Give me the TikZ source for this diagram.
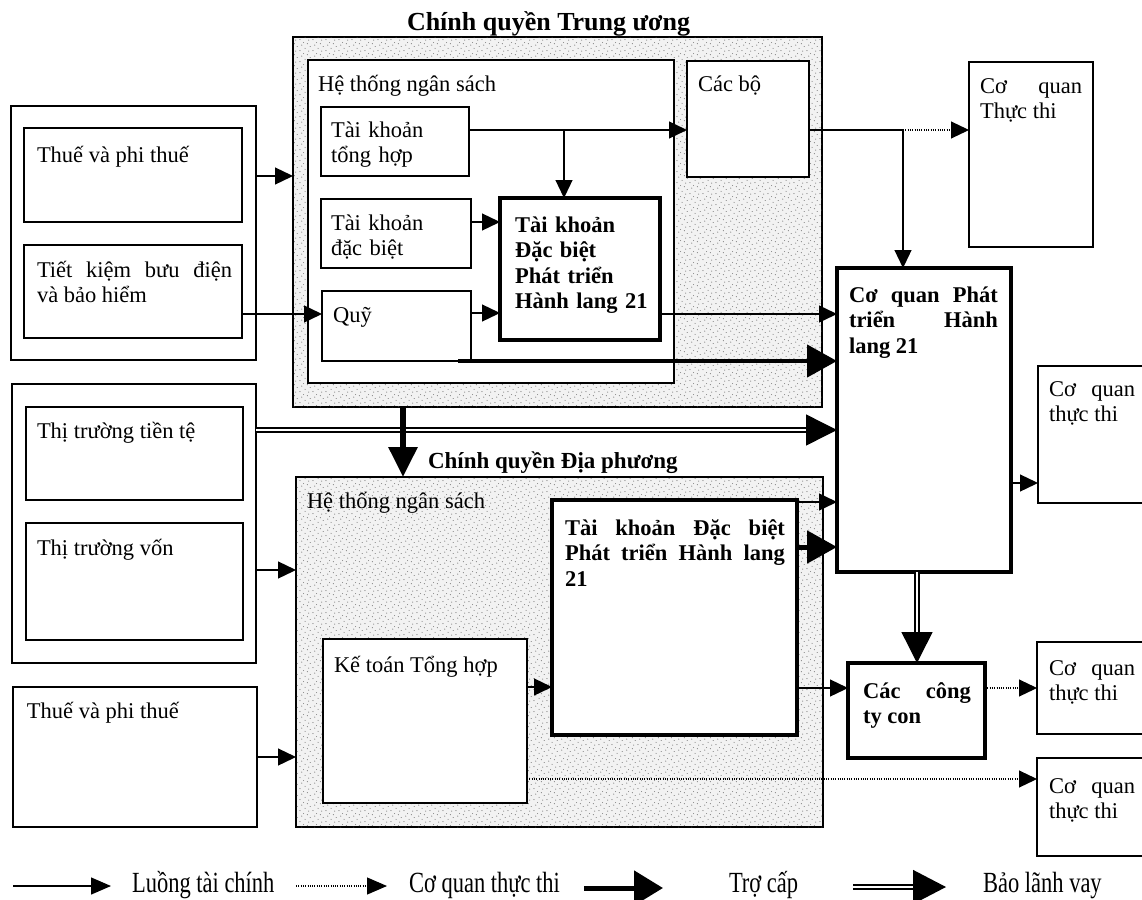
\documentclass[tikz,border=0pt]{standalone}
\usepackage{fontspec}
\usepackage{graphicx}
\setmainfont{Liberation Serif}
\usetikzlibrary{arrows.meta,patterns.meta}
\tikzdeclarepattern{
  name=stipple,
  type=uncolored,
  bounding box={(0pt,0pt) and (13pt,11pt)},
  tile size={(13pt,11pt)},
  code={
    \fill (1pt,1.5pt) circle (0.55pt);
    \fill (6.5pt,4pt) circle (0.5pt);
    \fill (10.5pt,1pt) circle (0.5pt);
    \fill (3pt,7.5pt) circle (0.55pt);
    \fill (9pt,9pt) circle (0.5pt);
    \fill (12pt,6pt) circle (0.45pt);
    \fill (5pt,10.2pt) circle (0.45pt);
  }
}
\begin{document}
\begin{tikzpicture}[x=1pt,y=-1pt,
  box/.style={draw, line width=1.5pt, fill=white, inner sep=0pt, outer sep=0pt, anchor=north west},
  tbox/.style={box, line width=4.5pt},
  stip/.style={box, fill=black!5, postaction={pattern=stipple, pattern color=black!70}},
  sz/.style 2 args={minimum width=#1, minimum height=#2},
  txt/.style={inner sep=0pt, outer sep=0pt, anchor=base west, font=\fontsize{22.5}{25.5}\selectfont},
  btxt/.style={txt, font=\fontsize{22.5}{25.5}\selectfont\bfseries},
  legtxt/.style={inner sep=0pt, outer sep=0pt, anchor=west, font=\fontsize{22.5}{25.5}\selectfont},
  flow/.style={line width=1.3pt, -{Triangle[length=18pt,width=17pt]}},
  exec/.style={line width=1.1pt, dash pattern=on 1pt off 1.3pt, -{Triangle[length=18pt,width=17pt]}},
  grant/.style={line width=5pt, -{Triangle[length=30pt,width=32pt]}},
  guar/.style={line width=1.4pt, double, double distance=2.6pt, -{Triangle[length=31pt,width=31pt]}},
]
\clip (0,0) rectangle (1142,899);
\fill[white] (0,0) rectangle (1142,899);

% ---------- central government ----------
\node[stip, sz={529}{370}] (cg) at (293,37) {};
\node[box, sz={366}{323}] (hts) at (308,60) {};
\node[box, sz={122}{116}] (cb) at (687,61) {};
\node[box, sz={148}{69}] (tkth) at (321,107) {};
\node[box, sz={150}{69}] (tkdb) at (321,199) {};
\node[box, sz={149}{70}] (quy) at (322,291) {};
\node[tbox, sz={160}{142}] (sp1) at (500,198) {};

% ---------- left groups ----------
\node[box, sz={245}{254}] (g1) at (11,106) {};
\node[box, sz={218}{94}] (thue1) at (24,128) {};
\node[box, sz={218}{93}] (tk) at (24,245) {};
\node[box, sz={244}{279}] (g2) at (12,384) {};
\node[box, sz={217}{93}] (tttt) at (26,407) {};
\node[box, sz={217}{117}] (ttv) at (26,523) {};
\node[box, sz={244}{140}] (thue2) at (13,687) {};

% ---------- local government ----------
\node[stip, sz={527}{350}] (lg) at (296,477) {};
\node[box, sz={204}{164}] (kt) at (323,639) {};
\node[tbox, sz={245}{235}] (sp2) at (552,500) {};

% ---------- right side ----------
\node[tbox, sz={174}{304}] (cqpt) at (837,268) {};
\node[tbox, sz={137}{95}] (cty) at (848,663) {};
\node[box, sz={124}{185}] (ex1) at (969,62) {};
\node[box, sz={130}{137}] (ex2) at (1038,366) {};
\node[box, sz={130}{92}] (ex3) at (1037,642) {};
\node[box, sz={130}{98}] (ex4) at (1037,758) {};

% ---------- connectors ----------
\coordinate (br1) at (564,130);
\coordinate (j1) at (903,130);
\coordinate (q0) at (458,361);

\draw[flow] (g1.east |- 0,176) -- (cg.west |- 0,176);
\draw[flow] (tk.east |- 0,314) -- (quy.west |- 0,314);
\draw[flow] (tkth.east |- br1) -- (cb.west |- br1);
\draw[flow] (br1) -- (sp1.north -| br1);
\draw[flow] (tkdb.east |- 0,222) -- (sp1.west |- 0,222);
\draw[flow] (quy.east |- 0,313) -- (sp1.west |- 0,313);
\draw[flow] (sp1.east |- 0,314) -- (cqpt.west |- 0,314);
\draw[grant, line width=4.5pt] (q0) -- (cqpt.west |- q0);
\draw[line width=1.3pt] (cb.east |- j1) -- (j1);
\draw[exec] (j1) -- (ex1.west |- j1);
\draw[flow] (j1) -- (cqpt.north -| j1);
\draw[guar] (g2.east |- 0,430) -- (cqpt.west |- 0,430);
\draw[line width=6pt, -{Triangle[length=30pt,width=28pt]}] (cg.south -| 403,0) -- (lg.north -| 403,0);
\draw[flow] (g2.east |- 0,570) -- (lg.west |- 0,570);
\draw[flow] (thue2.east |- 0,757) -- (lg.west |- 0,757);
\draw[flow] (kt.east |- 0,687) -- (sp2.west |- 0,687);
\draw[flow] (sp2.east |- 0,502) -- (cqpt.west |- 0,502);
\draw[grant] (sp2.east |- 0,547) -- (cqpt.west |- 0,547);
\draw[flow] (sp2.east |- 0,688) -- (cty.west |- 0,688);
\draw[flow] (cqpt.east |- 0,483) -- (ex2.west |- 0,483);
\draw[guar] (cqpt.south -| 917,0) -- (cty.north -| 917,0);
\draw[exec] (cty.east |- 0,688) -- (ex3.west |- 0,688);
\draw[exec] (kt.east |- 0,779) -- (ex4.west |- 0,779);

% ---------- texts ----------
\node[txt, font=\fontsize{26}{30}\selectfont\bfseries] (title1) at (407,31) {Chính quyền Trung ương};
\node[txt, font=\fontsize{23}{27}\selectfont\bfseries] (title2) at (428,468) {Chính quyền Địa phương};

\node[txt] (t-thue1) at (37,162) {Thuế và phi thuế};
\node[txt, text width=195pt, align=justify] (t-tk) at (37,277) {Tiết kiệm bưu điện\linebreak và bảo hiểm};
\node[txt] (t-hts) at (318,91) {Hệ thống ngân sách};
\node[txt] (t-cb) at (698,91) {Các bộ};
\node[txt, text width=130pt, align=left] (t-tkth) at (331,137) {Tài khoản\\tổng hợp};
\node[txt, text width=130pt, align=left] (t-tkdb) at (331,230) {Tài khoản\\đặc biệt};
\node[txt] (t-quy) at (333,322) {Quỹ};
\node[btxt, text width=140pt, align=left] (t-sp1) at (515,232) {Tài khoản\\Đặc biệt\\Phát triển\\Hành lang 21};
\node[btxt, text width=149pt, align=justify] (t-cqpt) at (849,302) {Cơ quan Phát\linebreak triển Hành\linebreak lang 21};
\node[txt, text width=102pt, align=justify] (t-ex1) at (980,93) {Cơ quan\linebreak Thực thi};
\node[txt, text width=86pt, align=justify] (t-ex2) at (1049,396) {Cơ quan\linebreak thực thi};
\node[txt, text width=86pt, align=justify] (t-ex3) at (1049,675) {Cơ quan\linebreak thực thi};
\node[txt, text width=86pt, align=justify] (t-ex4) at (1049,793) {Cơ quan\linebreak thực thi};
\node[btxt, text width=108pt, align=justify] (t-cty) at (863,698) {Các công\linebreak ty con};
\node[txt] (t-tttt) at (37,438) {Thị trường tiền tệ};
\node[txt] (t-ttv) at (37,555) {Thị trường vốn};
\node[txt] (t-thue2) at (27,718) {Thuế và phi thuế};
\node[txt] (t-hts2) at (307,508) {Hệ thống ngân sách};
\node[txt] (t-kt) at (334,672) {Kế toán Tổng hợp};
\node[btxt, text width=220pt, align=justify] (t-sp2) at (565,535) {Tài khoản Đặc biệt\linebreak Phát triển Hành lang\linebreak 21};

% ---------- legend ----------
\coordinate (l1a) at (13,886);  \coordinate (l1b) at (111,886);
\coordinate (l2a) at (296,886); \coordinate (l2b) at (387,886);
\coordinate (l3a) at (584,888); \coordinate (l3b) at (663,888);
\coordinate (l4a) at (853,887); \coordinate (l4b) at (946,887);
\draw[flow, -{Triangle[length=20pt,width=17pt]}] (l1a) -- (l1b);
\draw[exec, -{Triangle[length=20pt,width=17pt]}] (l2a) -- (l2b);
\draw[line width=5pt, -{Triangle[length=29pt,width=34pt]}] (l3a) -- (l3b);
\draw[guar, -{Triangle[length=33pt,width=34pt]}] (l4a) -- (l4b);
\node[legtxt] (lt1) at (132,885) {\scalebox{1}[1.3]{Luồng tài chính}};
\node[legtxt] (lt2) at (409,885) {\scalebox{1}[1.3]{Cơ quan thực thi}};
\node[legtxt] (lt3) at (729,885) {\scalebox{1}[1.3]{Trợ cấp}};
\node[legtxt] (lt4) at (983,885) {\scalebox{1}[1.3]{Bảo lãnh vay}};
\end{tikzpicture}
\end{document}
